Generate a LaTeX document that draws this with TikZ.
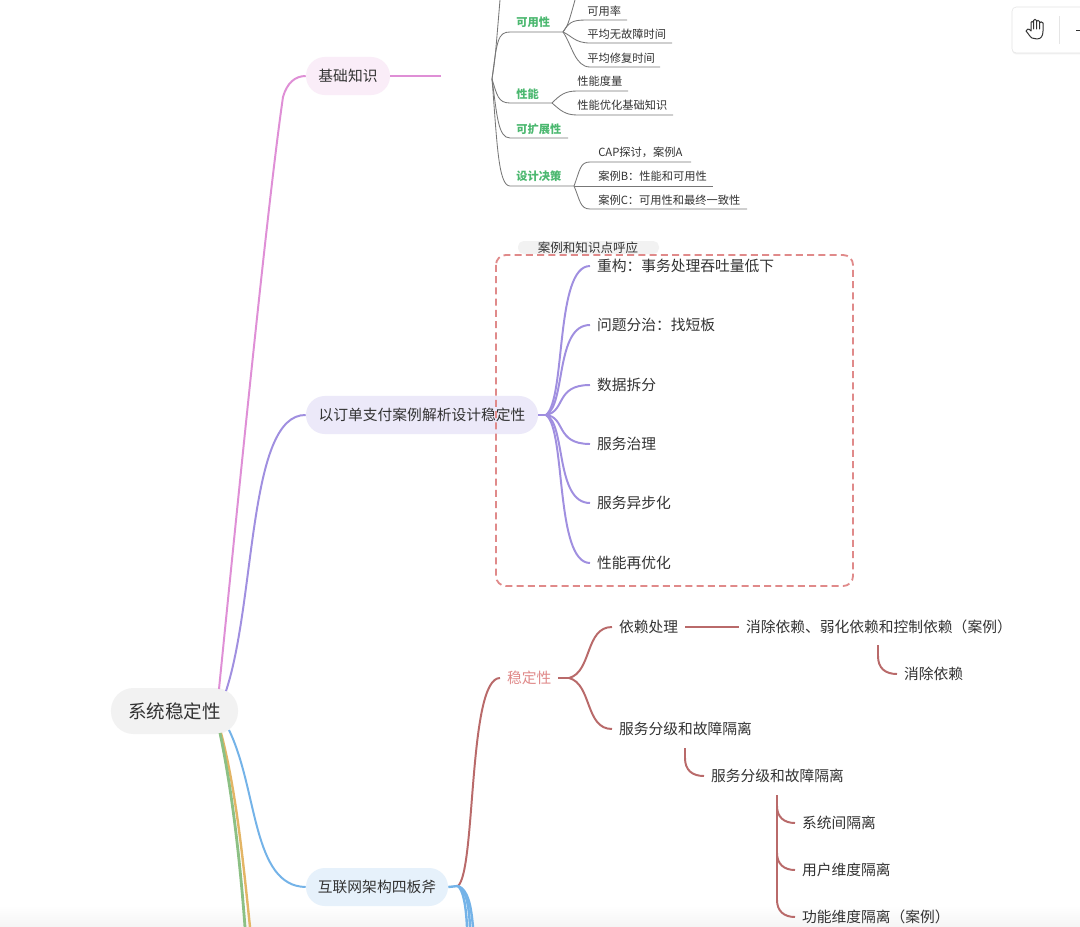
\documentclass[tikz,border=0pt]{standalone}
\usepackage{fontspec}
\setmainfont{Noto Sans CJK SC}
\usetikzlibrary{shadows}
\definecolor{inkc}{HTML}{333333}
\definecolor{pinkc}{HTML}{DF8FD6}
\definecolor{purpc}{HTML}{A08FE0}
\definecolor{bluec}{HTML}{74B3E8}
\definecolor{brownc}{HTML}{B96A6A}
\definecolor{greenc}{HTML}{8CC084}
\definecolor{orangec}{HTML}{E3B565}
\definecolor{leafc}{HTML}{4CB870}
\definecolor{redc}{HTML}{E08A8A}
\definecolor{linec}{HTML}{777777}
\tikzset{
	pill/.style = {rounded corners = 13.5pt, text = inkc, inner sep = 0pt, minimum height = 0.95cm, font = \fontsize{10.5}{12}\selectfont},
	item/.style = {anchor = west, inner sep = 0pt, outer xsep = 5pt, text = inkc, font = \fontsize{10.5}{12}\selectfont},
	small/.style = {anchor = west, inner sep = 0pt, text = inkc, font = \fontsize{8}{10}\selectfont},
	leaf/.style = {small, text = leafc, font = \fontsize{8}{10}\selectfont\bfseries},
	thinline/.style = {linec, line width = 0.6pt},
	midline/.style = {purpc, line width = 1.4pt},
	redline/.style = {brownc, line width = 1.4pt},
}
\begin{document}
\begin{tikzpicture} [x = 0.025cm, y = -0.025cm]
	\useasboundingbox (0,0) rectangle (1080,927);
	\fill [white] (0,0) rectangle (1080,927);
	\shade [top color = white, bottom color = black!4] (0,905) rectangle (1080,927);

	\coordinate (gfoot) at (245,927);
	\coordinate (ofoot) at (250,927);
	\coordinate (btop) at (441,76);
	\coordinate (hub) at (492,79);
	\coordinate (hubtop) at (500,0);
	\coordinate (availtop) at (575,0);

	\node [small] (rate) at (587,11) {可用率};
	\node [small] (mtbf) at (587,34) {平均无故障时间};
	\node [small] (mttr) at (587,58) {平均修复时间};
	\node [small] (metric) at (577,81) {性能度量};
	\node [small] (tuning) at (577,105) {性能优化基础知识};
	\node [small] (caseA) at (598,152) {CAP探讨，案例A};
	\node [small] (caseB) at (598,176) {案例B：性能和可用性};
	\node [small] (caseC) at (598,200) {案例C：可用性和最终一致性};
	\node [leaf] (avail) at (516,22) {可用性};
	\node [leaf] (perf) at (516,94) {性能};
	\node [leaf] (scale) at (516,129) {可扩展性};
	\node [leaf] (design) at (516,176) {设计决策};

	\coordinate (availj) at (563,32);
	\coordinate (perfj) at (552,103);
	\coordinate (designj) at (574,186);
	\draw [thinline] (hub) .. controls (495,60) .. (hubtop);
	\draw [thinline] (hub) .. controls (497,40) and (498,32) .. (510,32) -- (availj);
	\draw [thinline] (hub) .. controls (497,95) and (498,103) .. (510,103) -- (perfj);
	\draw [thinline] (hub) .. controls (497,115) and (498,138) .. (510,138) -- (568,138);
	\draw [thinline] (hub) .. controls (497,140) and (498,186) .. (510,186) -- (designj);
	\draw [thinline] (availj) .. controls (568,25) .. (availtop);
	\draw [thinline] (availj) .. controls (570,20) and (575,20) .. (590,20) -- (627,20);
	\draw [thinline] (availj) .. controls (572,36) and (575,43) .. (590,43) -- (672,43);
	\draw [thinline] (availj) .. controls (572,45) and (575,67) .. (590,67) -- (660,67);
	\draw [thinline] (perfj) .. controls (560,95) and (565,91) .. (577,91) -- (628,91);
	\draw [thinline] (perfj) .. controls (560,110) and (565,115) .. (577,115) -- (673,115);
	\draw [thinline] (designj) .. controls (580,170) and (580,162) .. (590,162) -- (691,162);
	\draw [thinline] (designj) -- (713,186);
	\draw [thinline] (designj) .. controls (580,200) and (580,209) .. (590,209) -- (747,209);

	\fill [black!5, rounded corners = 4pt] (518,241) rectangle (659,254);
	\node [anchor = center, inner sep = 0pt, text = inkc, font = \fontsize{8.9}{10}\selectfont] (echo) at (588,248) {案例和知识点呼应};

	\node [item] (refactor) at (590,266) {重构：事务处理吞吐量低下};
	\node [item] (divide) at (590,325) {问题分治：找短板};
	\node [item] (split) at (590,385) {数据拆分};
	\node [item] (govern) at (590,444) {服务治理};
	\node [item] (async) at (590,503) {服务异步化};
	\node [item] (reopt) at (590,563) {性能再优化};

	\node [pill, fill = pinkc!16, minimum width = 2.1cm] (basics) at (348,76) {基础知识};
	\node [pill, fill = purpc!20, minimum width = 5.8cm] (order) at (422,415) {以订单支付案例解析设计稳定性};
	\node [pill, fill = bluec!18, minimum width = 3.55cm] (axes) at (377,887) {互联网架构四板斧};
	\node [pill, fill = black!5, minimum width = 3.175cm, minimum height = 1.15cm, rounded corners = 16pt, font = \fontsize{13.2}{15}\selectfont] (root) at (174.5,711) {系统稳定性};

	\draw [pinkc, line width = 1.4pt] (219,689) .. controls (240,480) and (268,200) .. (283,97) .. controls (287,83) and (295,76) .. (basics.west);
	\draw [purpc, line width = 1.4pt] (226,691) .. controls (256,600) and (248,414) .. (order.west);
	\draw [bluec, line width = 1.4pt] (229,730) .. controls (258,790) and (252,886) .. (axes.west);
	\draw [orangec, line width = 1.7pt] (221,733) .. controls (236,790) and (243,860) .. (ofoot);
	\draw [greenc, line width = 2pt] (220,733) .. controls (232,790) and (240,860) .. (gfoot);
	\draw [pinkc, line width = 1.4pt] (basics.east) -- (btop);

	\foreach \leafname/\ly in {refactor/266, divide/325, split/385, govern/444, async/503, reopt/563} {
		\pgfmathsetmacro{\lc}{414+(\ly-414)*0.1}
		\draw [midline] (order.east) -- (546,415) .. controls (566,\lc) and (555,\ly) .. (\leafname.west);
	}

	\draw [redc, line width = 1.3pt, dash pattern = on 5pt off 3pt, rounded corners = 7pt] (496,255) rectangle (853,586);

	\node [anchor = west, inner sep = 0pt, outer xsep = 5pt, text = redc, font = \fontsize{10.5}{12}\selectfont] (stable) at (500,678) {稳定性};
	\node [item] (dep) at (612,627) {依赖处理};
	\node [item] (remove) at (739,627) {消除依赖、弱化依赖和控制依赖（案例）};
	\node [item] (rmleaf) at (897,674) {消除依赖};
	\node [item] (tier) at (612,729) {服务分级和故障隔离};
	\node [item] (tiersub) at (704,776) {服务分级和故障隔离};
	\node [item] (sysiso) at (795,823) {系统间隔离};
	\node [item] (useriso) at (795,870) {用户维度隔离};
	\node [item] (funciso) at (795,917) {功能维度隔离（案例）};
	\coordinate (rmtop) at (878,645);
	\coordinate (tiertop) at (685,748);
	\coordinate (isotop) at (777,795);
	\coordinate (stablej) at (569,678);
	\coordinate (axj) at (458,886);

	\draw [redline] (axj) .. controls (476,870) and (468,678) .. (stable.west);
	\draw [redline] (stable.east) -- (stablej);
	\draw [redline] (stablej) .. controls (592,672) and (585,627) .. (dep.west);
	\draw [redline] (stablej) .. controls (592,684) and (585,729) .. (tier.west);
	\draw [redline] (dep.east) -- (remove.west);
	\draw [redline] (rmtop) -- (878,656) .. controls (878,668) and (885,674) .. (rmleaf.west);
	\draw [redline] (tiertop) -- (685,758) .. controls (685,770) and (692,776) .. (tiersub.west);
	\draw [redline] (isotop) -- (777,900) .. controls (777,911) and (784,917) .. (funciso.west);
	\draw [redline] (777,806) .. controls (777,817) and (784,823) .. (sysiso.west);
	\draw [redline] (777,853) .. controls (777,864) and (784,870) .. (useriso.west);

	\draw [bluec, line width = 1.7pt] (axes.east) -- (axj);
	\draw [bluec, line width = 1.7pt] (axj) .. controls (463,890) and (466,905) .. (467,927);
	\draw [bluec, line width = 1.7pt] (axj) .. controls (466,890) and (469,905) .. (470,927);
	\draw [bluec, line width = 1.7pt] (axj) .. controls (468,890) and (471,905) .. (473,927);

	\fill [white, rounded corners = 3pt, drop shadow = {opacity = 0.1, shadow xshift = 0pt, shadow yshift = -1pt}] (1012,7) rectangle (1090,53);
	\draw [black!10, rounded corners = 3pt] (1012,7) rectangle (1090,53);
	\draw [black!10] (1059,16) -- (1059,44);
	\draw [inkc, line width = 0.7pt] (1076,30) -- (1080,30);
	\draw [inkc, line width = 0.7pt, line join = round, line cap = round] (1032,38) .. controls (1030,37) and (1028,33) .. (1026,31) .. controls (1026,29) and (1029,28) .. (1031,31) -- (1031,22.5) .. controls (1031,21) and (1033,21) .. (1033.5,22.5) -- (1033.5,29) -- (1033.5,20.5) .. controls (1034,19) and (1036,19) .. (1036.5,20.5) -- (1036.5,29) -- (1036.5,21.5) .. controls (1037,20) and (1039,20) .. (1039.5,21.5) -- (1039.5,29) -- (1039.5,23) .. controls (1040,21.5) and (1042.5,21.5) .. (1043,23) -- (1043,31) .. controls (1043,36) and (1041,39) .. (1037,39) -- cycle;
\end{tikzpicture}
\end{document}
